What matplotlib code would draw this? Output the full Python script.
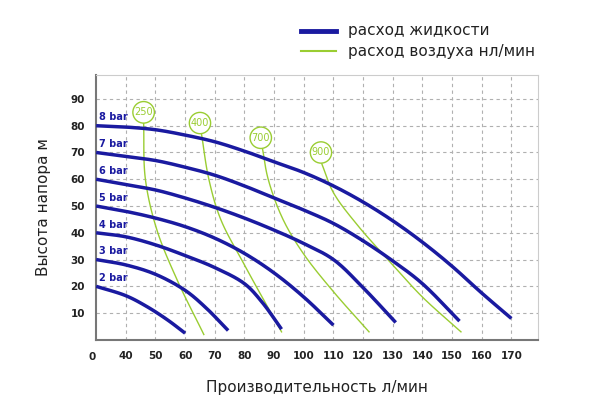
import matplotlib
matplotlib.use("Agg")
import matplotlib.pyplot as plt
import numpy as np

# Liquid flow curves (flow l/min, head m) per pressure
bar_labels = ["8 bar", "7 bar", "6 bar", "5 bar", "4 bar", "3 bar", "2 bar"]
bar8_x = [30, 40, 50, 60, 70, 80, 90, 100, 110, 120, 130, 140, 150, 160, 170]
bar8_y = [80, 79.5, 78.5, 76.5, 74, 70.5, 66.5, 62.5, 57.5, 51.5, 44.5, 36.5, 27.5, 17.5, 8]
bar7_x = [30, 40, 50, 60, 70, 80, 90, 100, 110, 120, 130, 140, 152.5]
bar7_y = [70, 68.5, 67, 64.5, 61.5, 57.5, 53, 48.5, 43.5, 37, 29.5, 21, 7]
bar6_x = [30, 40, 50, 60, 70, 80, 90, 100, 110, 120, 131]
bar6_y = [60, 58, 56, 53, 49.5, 45.5, 41, 36, 30, 19.5, 6.5]
bar5_x = [30, 40, 50, 60, 70, 80, 90, 100, 110]
bar5_y = [50, 48, 45.5, 42.3, 38, 32.3, 25, 16, 5.5]
bar4_x = [30, 40, 50, 60, 70, 80, 86, 92.5]
bar4_y = [40, 38.5, 35.5, 31.5, 27, 21, 14, 4]
bar3_x = [30, 40, 50, 60, 67, 74.5]
bar3_y = [30, 28, 24.5, 18.5, 12, 3.5]
bar2_x = [30, 40, 47, 54, 60]
bar2_y = [20, 16.5, 12.5, 7.5, 2.5]

# Air consumption curves (nl/min)
air_labels = ["250", "400", "700", "900"]
air250_x = [46, 46.6, 50.5, 57.3, 66.3]
air250_y = [81, 60, 41, 22.4, 2]
air400_x = [65.5, 68, 72, 80, 92.5]
air400_y = [77, 60, 45, 28, 3]
air700_x = [86, 88, 93, 100, 110, 122]
air700_y = [72, 60, 45, 32, 18, 3]
air900_x = [106, 110, 118, 130, 140, 153]
air900_y = [66, 55, 43, 28, 16, 3]
air_label_x = [46, 65, 85.5, 105.8]
air_label_y = [85, 81, 75.5, 70]

x_ticks = [40, 50, 60, 70, 80, 90, 100, 110, 120, 130, 140, 150, 160, 170]
y_ticks = [10, 20, 30, 40, 50, 60, 70, 80, 90]

BLUE = "#1a1aa0"
GREEN = "#9acd32"

def smooth(x, y, alpha=0.5, n=30):
    P = np.vstack([np.asarray(x, float), np.asarray(y, float)]).T
    P = np.vstack([2*P[0] - P[1], P, 2*P[-1] - P[-2]])
    out = []
    for i in range(1, len(P) - 2):
        p0, p1, p2, p3 = P[i-1], P[i], P[i+1], P[i+2]
        t0 = 0.0
        t1 = t0 + np.linalg.norm(p1 - p0) ** alpha
        t2 = t1 + np.linalg.norm(p2 - p1) ** alpha
        t3 = t2 + np.linalg.norm(p3 - p2) ** alpha
        t = np.linspace(t1, t2, n)[:, None]
        A1 = (t1 - t)/(t1 - t0)*p0 + (t - t0)/(t1 - t0)*p1
        A2 = (t2 - t)/(t2 - t1)*p1 + (t - t1)/(t2 - t1)*p2
        A3 = (t3 - t)/(t3 - t2)*p2 + (t - t2)/(t3 - t2)*p3
        B1 = (t2 - t)/(t2 - t0)*A1 + (t - t0)/(t2 - t0)*A2
        B2 = (t3 - t)/(t3 - t1)*A2 + (t - t1)/(t3 - t1)*A3
        C = (t2 - t)/(t2 - t1)*B1 + (t - t1)/(t2 - t1)*B2
        out.append(C)
    c = np.vstack(out)
    return c[:, 0], c[:, 1]

fig = plt.figure(figsize=(5.9, 4.09), dpi=100)
ax = fig.add_axes([0.163, 0.169, 0.749, 0.648])

bars = [(bar8_x, bar8_y), (bar7_x, bar7_y), (bar6_x, bar6_y), (bar5_x, bar5_y),
        (bar4_x, bar4_y), (bar3_x, bar3_y), (bar2_x, bar2_y)]
for (bx, by), lab in zip(bars, bar_labels):
    sx, sy = smooth(bx, by)
    ax.plot(sx, sy, color=BLUE, lw=2.5, solid_capstyle="butt", zorder=3)
    ax.text(bx[0] + 0.8, by[0] + 1.2, lab, color=BLUE, fontsize=7, fontweight="bold",
            ha="left", va="bottom", zorder=4)

airs = [(air250_x, air250_y), (air400_x, air400_y), (air700_x, air700_y), (air900_x, air900_y)]
for (gx, gy), lab, lx, ly in zip(airs, air_labels, air_label_x, air_label_y):
    sx, sy = smooth(gx, gy)
    ax.plot(sx, sy, color=GREEN, lw=1, zorder=2)
    ax.text(lx, ly, lab, color=GREEN, fontsize=7, ha="center", va="center", zorder=5,
            bbox=dict(boxstyle="circle,pad=0.15", fc="white", ec=GREEN, lw=1))

ax.set_xlim(30, 179)
ax.set_ylim(0, 99)
ax.set_xticks(x_ticks)
ax.set_yticks(y_ticks)
ax.tick_params(length=0, labelsize=7.5, pad=8)
for t in ax.get_xticklabels() + ax.get_yticklabels():
    t.set_fontweight("bold")
    t.set_color("#222222")
ax.text(28.5, -6.3, "0", fontsize=7.5, fontweight="bold", color="#222222", ha="center", va="center")
ax.grid(True, color="#b0b0b0", ls=(0, (3, 3)), lw=0.8)
for s in ["left", "bottom"]:
    ax.spines[s].set_color("#777777"); ax.spines[s].set_linewidth(1.5)
for s in ["top", "right"]:
    ax.spines[s].set_color("#cccccc")
ax.set_ylabel("Высота напора м", fontsize=11, labelpad=14, color="#222222")
ax.set_xlabel("Производительность л/мин", fontsize=11, labelpad=14, color="#222222")

# legend
fig.lines.append(plt.Line2D([0.51, 0.57], [0.925, 0.925], color=BLUE, lw=3.5, transform=fig.transFigure))
fig.lines.append(plt.Line2D([0.51, 0.57], [0.875, 0.875], color=GREEN, lw=1.5, transform=fig.transFigure))
fig.text(0.59, 0.925, "расход жидкости", fontsize=11, va="center", color="#222222")
fig.text(0.59, 0.875, "расход воздуха нл/мин", fontsize=11, va="center", color="#222222")

fig.savefig("out.png", dpi=100)
